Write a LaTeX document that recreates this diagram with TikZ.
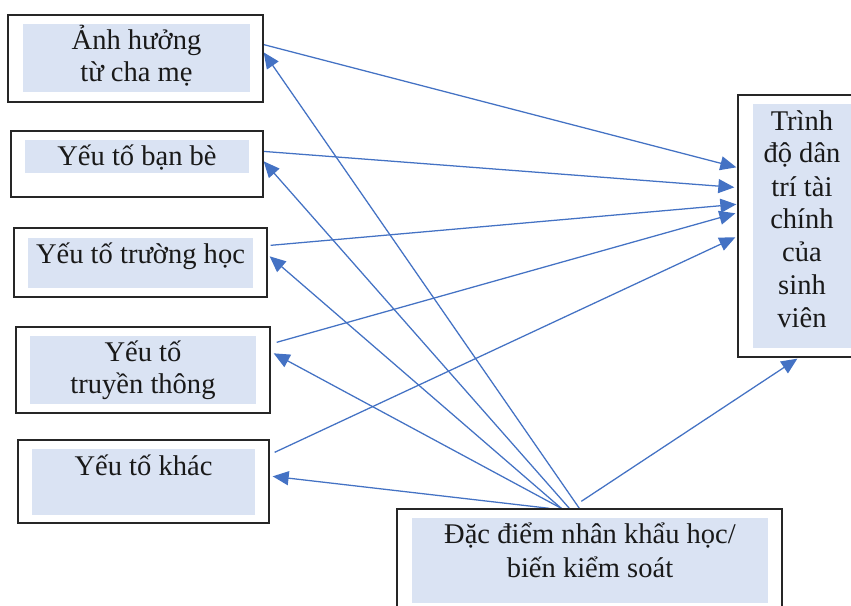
\documentclass[tikz,border=0pt]{standalone}
\usepackage{fontspec}
\setmainfont{Liberation Serif}
\usetikzlibrary{arrows.meta,fit,calc}
\pgfdeclarelayer{paper}
\pgfdeclarelayer{bg}
\pgfsetlayers{paper,bg,main}
\definecolor{arrowblue}{HTML}{4472C4}
\definecolor{paleblue}{HTML}{DAE3F3}
\begin{document}
\begin{tikzpicture}[x=0.75pt,y=-0.75pt,
  frame/.style={draw=black!85,line width=1pt,fill=white,inner sep=0pt,rectangle},
  band/.style={fill=paleblue,inner sep=0pt,rectangle},
  lbl/.style={font=\fontsize{21.4}{24}\selectfont,align=center,inner sep=0pt,anchor=base,text=black!90},
  link/.style={draw=arrowblue,line width=0.95pt,-{Triangle[length=12pt,width=10.5pt]}},
]
\useasboundingbox (0,0) rectangle (851,606);
\clip (0,0) rectangle (851,606);
\begin{pgfonlayer}{paper}
  \fill[white] (0,0) rectangle (851,606);
\end{pgfonlayer}

% outer frames
\node[frame, fit={(8,15) (263,102)}] (b1) {};
\node[frame, fit={(11,131) (263,197)}] (b2) {};
\node[frame, fit={(14,228) (267,297)}] (b3) {};
\node[frame, fit={(16,327) (270,413)}] (b4) {};
\node[frame, fit={(18,440) (269,523)}] (b5) {};
\node[frame, fit={(738,95) (880,357)}] (tr) {};
\node[frame, fit={(397,509) (782,630)}] (bb) {};

% shaded text bands
\node[band, fit={(23,24) (250,92)}] (f1) {};
\node[band, fit={(25,140) (249,173)}] (f2) {};
\node[band, fit={(28,238) (253,288)}] (f3) {};
\node[band, fit={(30,336) (256,404)}] (f4) {};
\node[band, fit={(32,449) (255,515)}] (f5) {};
\node[band, fit={(753,104) (880,348)}] (ftr) {};
\node[band, fit={(412,518) (768,603)}] (fbb) {};

% labels (anchored at the baseline of the last line)
\node[lbl] (t1) at (136.5,82) {Ảnh hưởng\\từ cha mẹ};
\node[lbl] (t2) at (137,166) {Yếu tố bạn bè};
\node[lbl] (t3) at (140.5,264) {Yếu tố trường học};
\node[lbl] (t4) at (143,393) {Yếu tố\\truyền thông};
\node[lbl] (t5) at (143.5,475) {Yếu tố khác};
\node[lbl, font=\fontsize{21.4}{24.75}\selectfont] (ttr) at (802,328)
  {Trình\\độ dân\\trí tài\\chính\\của\\sinh\\viên};
\node[lbl, font=\fontsize{21.4}{25}\selectfont] (tbb) at (590,577)
  {Đặc điểm nhân khẩu học/\\biến kiểm soát};

% connectors
\begin{pgfonlayer}{bg}
  % factors -> outcome
  \draw[link] ($(b1.north east)+(-1,30)$) -- ($(tr.north west)+(-1,73)$);
  \draw[link] ($(b2.north east)+(-1,21)$) -- ($(tr.north west)+(-3,93)$);
  \draw[link] ($(b3.north east)+(3,18)$) -- ($(tr.north west)+(-1,110)$);
  \draw[link] ($(b4.north east)+(6,16)$) -- ($(tr.north west)+(-2,119)$);
  \draw[link] ($(b5.north east)+(5,13)$) -- ($(tr.north west)+(-2,143)$);
  % control variables -> factors
  \draw[link] ($(bb.north west)+(183,0)$) -- ($(b1.north east)+(0,38)$);
  \draw[link] ($(bb.north west)+(173,0)$) -- ($(b2.north east)+(0,31)$);
  \draw[link] ($(bb.north west)+(165,0)$) -- ($(b3.north east)+(2,29)$);
  \draw[link] ($(bb.north west)+(165,0)$) -- ($(b4.north east)+(3,27)$);
  \draw[link] ($(bb.north west)+(153,0)$) -- ($(b5.north east)+(3,37)$);
  % control variables -> outcome
  \draw[link] ($(bb.north west)+(185,-7)$) -- ($(tr.south west)+(60,1)$);
\end{pgfonlayer}
\end{tikzpicture}
\end{document}
